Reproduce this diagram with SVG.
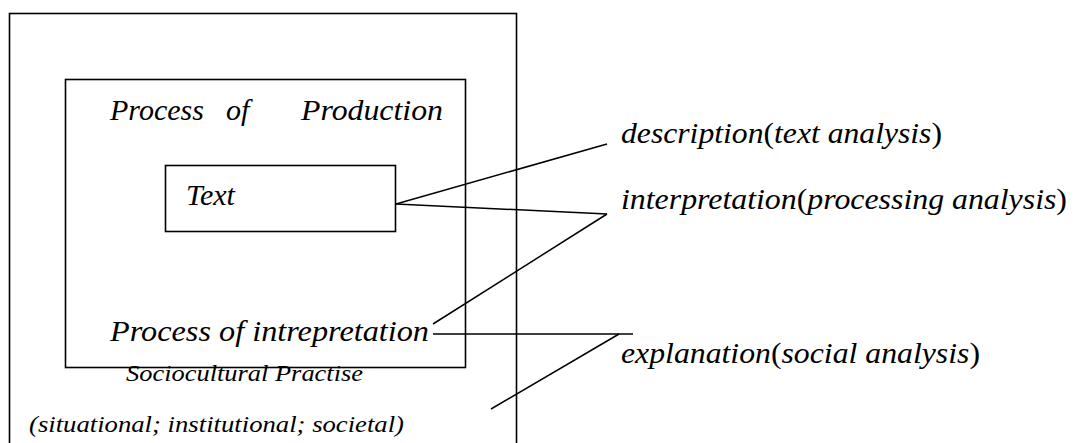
<svg xmlns="http://www.w3.org/2000/svg" width="1074" height="443" viewBox="0 0 1074 443">
<style>
.box{fill:none;stroke:#000;stroke-width:1.6}
.ln{fill:none;stroke:#000;stroke-width:1.5}
.t{font-family:"Liberation Serif","Times New Roman",serif;font-style:italic;fill:#000}
.up{font-style:normal}
</style>
<rect width="1074" height="443" fill="#fff"/>
<g id="sociocultural-practice">
<rect class="box" x="9.5" y="13.5" width="507" height="450"/>
<text class="t" x="126" y="381" font-size="24" textLength="237" lengthAdjust="spacingAndGlyphs">Sociocultural Practise</text>
<text class="t" x="29" y="432" font-size="24" textLength="375" lengthAdjust="spacingAndGlyphs">(situational; institutional; societal)</text>
</g>
<g id="discourse-practice">
<rect class="box" x="65.5" y="79.5" width="400" height="288"/>
<text class="t" x="110" y="120" font-size="30">Process</text>
<text class="t" x="226" y="120" font-size="30">of</text>
<text class="t" x="301" y="120" font-size="30" textLength="142" lengthAdjust="spacingAndGlyphs">Production</text>
<text class="t" x="110" y="341" font-size="30" textLength="319" lengthAdjust="spacingAndGlyphs">Process of intrepretation</text>
</g>
<g id="text-node">
<rect class="box" x="165.5" y="165.5" width="230" height="66"/>
<text class="t" x="186" y="205" font-size="30">Text</text>
</g>
<g id="labels">
<text id="description" class="t" x="621" y="143" font-size="29" textLength="321" lengthAdjust="spacingAndGlyphs">description<tspan class="up">(</tspan>text analysis<tspan class="up">)</tspan></text>
<text id="interpretation" class="t" x="621" y="209" font-size="29" textLength="446" lengthAdjust="spacingAndGlyphs">interpretation<tspan class="up">(</tspan>processing analysis<tspan class="up">)</tspan></text>
<text id="explanation" class="t" x="621" y="363" font-size="29" textLength="359" lengthAdjust="spacingAndGlyphs">explanation<tspan class="up">(</tspan>social analysis<tspan class="up">)</tspan></text>
</g>
<g id="connectors">
<line class="ln" x1="396" y1="204" x2="607" y2="144"/>
<line class="ln" x1="396" y1="204" x2="607" y2="214"/>
<line class="ln" x1="433" y1="324" x2="607" y2="214"/>
<line class="ln" x1="433" y1="334" x2="633" y2="334"/>
<line class="ln" x1="619" y1="334" x2="491" y2="409"/>
</g>
</svg>
